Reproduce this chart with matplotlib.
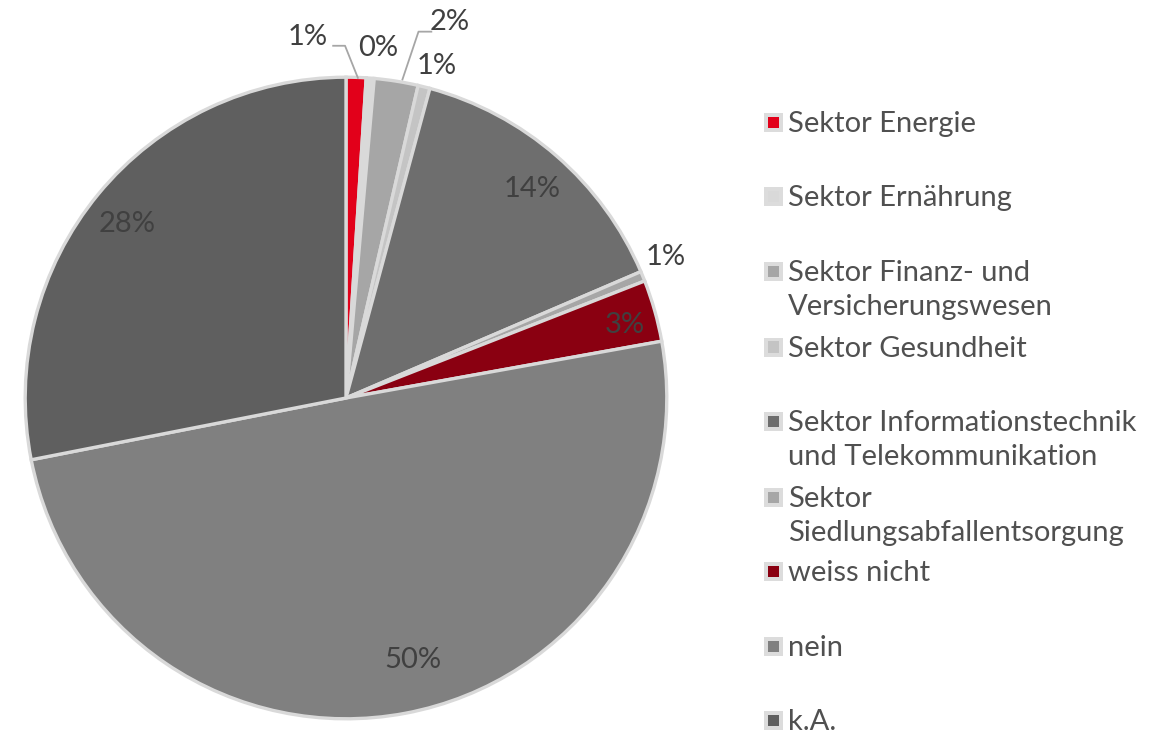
import matplotlib
matplotlib.use("Agg")
import matplotlib.pyplot as plt
from matplotlib.patches import Rectangle

# categories and shares (percent)
labels = ['Sektor Energie', 'Sektor Ernährung', 'Sektor Finanz- und\nVersicherungswesen',
          'Sektor Gesundheit', 'Sektor Informationstechnik\nund Telekommunikation',
          'Sektor\nSiedlungsabfallentsorgung', 'weiss nicht', 'nein', 'k.A.']
values = [1.0, 0.4, 2.2, 0.6, 14.3, 0.5, 3.1, 49.6, 28.0]
pct_text = ['1%', '0%', '2%', '1%', '14%', '1%', '3%', '50%', '28%']
colors = ['#e2001a', '#d9d9d9', '#a6a6a6', '#c4c4c4', '#6e6e6e',
          '#a6a6a6', '#8a0011', '#808080', '#5f5f5f']

plt.rcParams['font.family'] = ['Lato', 'DejaVu Sans']
txt_col = '#505050'
fs = 21

W, H = 1170, 734
fig = plt.figure(figsize=(W / 100, H / 100), dpi=100)

# pie centre / radius in pixels
cx, cy, r = 346, 398, 324
ax = fig.add_axes([(cx - r) / W, (H - cy - r) / H, 2 * r / W, 2 * r / H])
wedges, _ = ax.pie(values, colors=colors, startangle=90, counterclock=False,
                   wedgeprops=dict(edgecolor='#d9d9d9', linewidth=2.4))
ax.set_xlim(-1.01, 1.01)
ax.set_ylim(-1.01, 1.01)
ax.axis('off')

# label positions (data coords of the pie axes)
lab_pos = [(-0.118, 1.125), (0.099, 1.092), (0.322, 1.172), (0.282, 1.036),
           (0.579, 0.652), (0.997, 0.440), (0.870, 0.229), (0.207, -0.818), (-0.681, 0.541)]
for t, (x, y) in zip(pct_text, lab_pos):
    ax.text(x, y, t, ha='center', va='center', fontsize=fs, color='#404040', clip_on=False)

# leader lines for the two crowded top labels
ax.plot([0.037, -0.003, -0.04], [0.998, 1.098, 1.098], color='#a6a6a6', lw=1.3, clip_on=False)
ax.plot([0.176, 0.226, 0.266], [0.993, 1.142, 1.142], color='#a6a6a6', lw=1.3, clip_on=False)

# legend drawn by hand (Excel-like uneven spacing)
leg_y = [122, 196, 271, 347, 421, 497, 571, 646, 720]
line_h = 34
for lab, c, py in zip(labels, colors, leg_y):
    fig.patches.append(Rectangle((764 / W, (H - py - 9.5) / H), 19 / W, 19 / H,
                                 transform=fig.transFigure, facecolor='#dcdcdc',
                                 edgecolor='none'))
    fig.patches.append(Rectangle((768 / W, (H - py - 5.5) / H), 11 / W, 11 / H,
                                 transform=fig.transFigure, facecolor=c,
                                 edgecolor='none'))
    for i, part in enumerate(lab.split('\n')):
        fig.text(788 / W, (H - py - 10 - i * line_h) / H, part, ha='left', va='baseline',
                 fontsize=fs, color=txt_col)

fig.savefig('out.png', dpi=100)
